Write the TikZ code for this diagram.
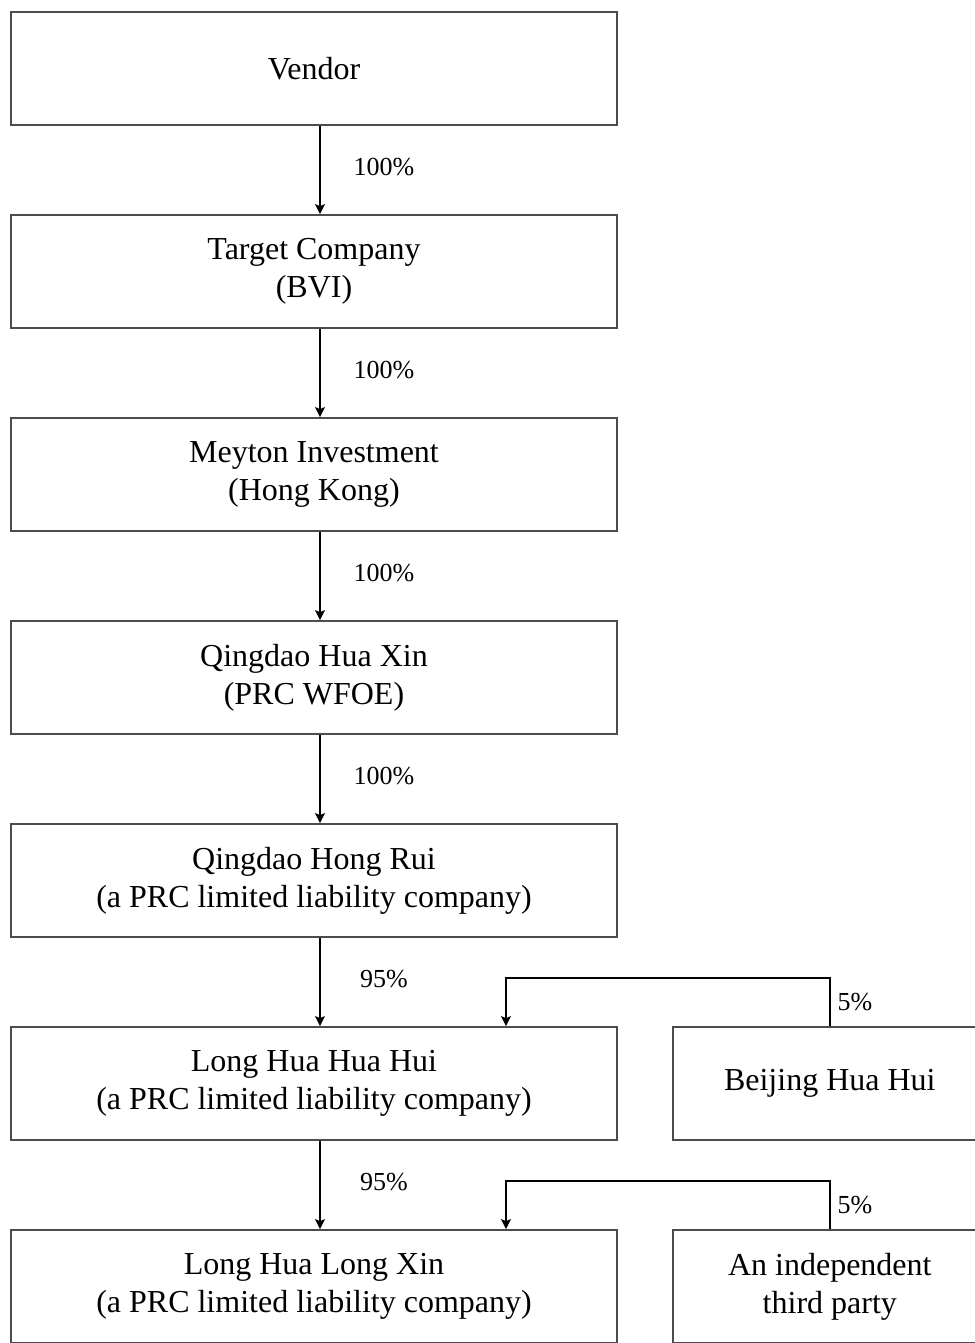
\documentclass[tikz,border=0pt]{standalone}
\usepackage{fontspec}
\setmainfont{Liberation Serif}
\usetikzlibrary{positioning,arrows.meta}

\begin{document}
\begin{tikzpicture}[
  node distance=44.1pt,
  entity/.style={rectangle, draw=black!70, line width=0.9pt, minimum width=303pt,
    minimum height=56.5pt, align=center, inner sep=2pt,
    font=\fontsize{16}{19}\selectfont},
  side/.style={entity, minimum width=157pt},
  share/.style={draw, -{Stealth[length=5pt,width=5pt,inset=1pt]}, line width=0.7pt},
  pct/.style={font=\fontsize{13}{15}\selectfont, inner sep=0pt}
]
\useasboundingbox (0,0) rectangle (487pt,-671.5pt);

\node[entity] (vendor) at (157pt,-34.25pt) {Vendor};
\node[entity, below=of vendor] (target) {Target Company\\(BVI)};
\node[entity, below=of target] (meyton) {Meyton Investment\\(Hong Kong)};
\node[entity, below=of meyton] (huaxin) {Qingdao Hua Xin\\(PRC WFOE)};
\node[entity, below=of huaxin] (hongrui) {Qingdao Hong Rui\\(a PRC limited liability company)};
\node[entity, below=of hongrui] (huahui) {Long Hua Hua Hui\\(a PRC limited liability company)};
\node[entity, below=of huahui] (longxin) {Long Hua Long Xin\\(a PRC limited liability company)};
\node[side, right=27pt of huahui] (beijing) {Beijing Hua Hui};
\node[side, right=27pt of longxin] (thirdparty) {An independent\\third party};

\draw[share] ([xshift=3pt]vendor.south) -- node[pct, xshift=32pt, yshift=1.5pt] {100\%} ([xshift=3pt]target.north);
\draw[share] ([xshift=3pt]target.south) -- node[pct, xshift=32pt, yshift=1.5pt] {100\%} ([xshift=3pt]meyton.north);
\draw[share] ([xshift=3pt]meyton.south) -- node[pct, xshift=32pt, yshift=1.5pt] {100\%} ([xshift=3pt]huaxin.north);
\draw[share] ([xshift=3pt]huaxin.south) -- node[pct, xshift=32pt, yshift=1.5pt] {100\%} ([xshift=3pt]hongrui.north);
\draw[share] ([xshift=3pt]hongrui.south) -- node[pct, xshift=32pt, yshift=1.5pt] {95\%} ([xshift=3pt]huahui.north);
\draw[share] ([xshift=3pt]huahui.south) -- node[pct, xshift=32pt, yshift=1.5pt] {95\%} ([xshift=3pt]longxin.north);

\draw[share] (beijing.north) -- node[pct, right=3.5pt] {5\%} ++(0,24pt)
  -| ([xshift=96pt]huahui.north);
\draw[share] (thirdparty.north) -- node[pct, right=3.5pt] {5\%} ++(0,24pt)
  -| ([xshift=96pt]longxin.north);
\end{tikzpicture}
\end{document}
